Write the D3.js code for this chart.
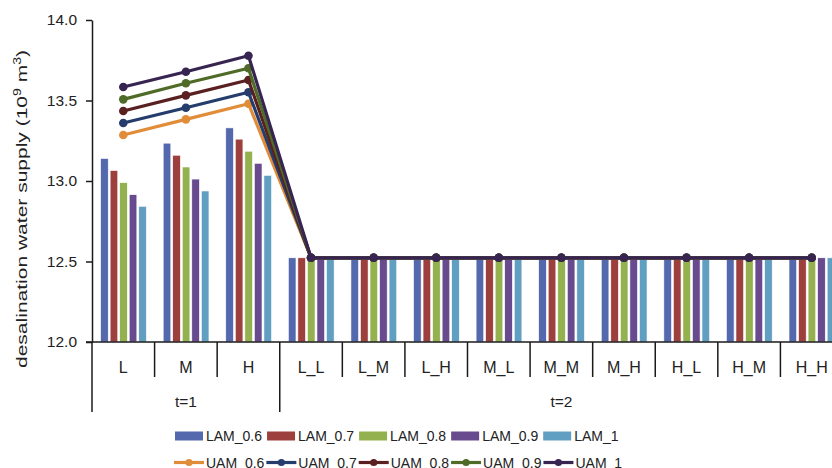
<!DOCTYPE html>
<html>
<head>
<meta charset="utf-8">
<script src="https://cdn.jsdelivr.net/npm/d3@7"></script>
<style>
  html, body { margin: 0; padding: 0; background: #fff; }
  svg { display: block; font-family: "Liberation Sans", Arial, sans-serif; }
</style>
</head>
<body>
<svg id="chart" width="832" height="468"></svg>
<script>
// Scenario categories along the x axis
const categories = ["L", "M", "H", "L_L", "L_M", "L_H", "M_L", "M_M", "M_H", "H_L", "H_M", "H_H"];
const periodGroups = [
  { label: "t=1", from: 0, to: 3 },
  { label: "t=2", from: 3, to: 12 }
];
const yTicks = [12.0, 12.5, 13.0, 13.5, 14.0];

// Lower-bound series (bars)
const barSeries = ["LAM_0.6", "LAM_0.7", "LAM_0.8", "LAM_0.9", "LAM_1"];
const LAM_06 = [13.14, 13.235, 13.33, 12.523, 12.523, 12.523, 12.523, 12.523, 12.523, 12.523, 12.523, 12.523];
const LAM_07 = [13.065, 13.16, 13.26, 12.523, 12.523, 12.523, 12.523, 12.523, 12.523, 12.523, 12.523, 12.523];
const LAM_08 = [12.99, 13.087, 13.185, 12.523, 12.523, 12.523, 12.523, 12.523, 12.523, 12.523, 12.523, 12.523];
const LAM_09 = [12.915, 13.012, 13.11, 12.523, 12.523, 12.523, 12.523, 12.523, 12.523, 12.523, 12.523, 12.523];
const LAM_1  = [12.843, 12.938, 13.035, 12.523, 12.523, 12.523, 12.523, 12.523, 12.523, 12.523, 12.523, 12.523];

// Upper-bound series (lines with markers)
const lineSeries = ["UAM_0.6", "UAM_0.7", "UAM_0.8", "UAM_0.9", "UAM_1"];
const UAM_06 = [13.286, 13.383, 13.48, 12.523, 12.523, 12.523, 12.523, 12.523, 12.523, 12.523, 12.523, 12.523];
const UAM_07 = [13.36, 13.455, 13.551, 12.523, 12.523, 12.523, 12.523, 12.523, 12.523, 12.523, 12.523, 12.523];
const UAM_08 = [13.435, 13.532, 13.627, 12.523, 12.523, 12.523, 12.523, 12.523, 12.523, 12.523, 12.523, 12.523];
const UAM_09 = [13.507, 13.607, 13.70, 12.523, 12.523, 12.523, 12.523, 12.523, 12.523, 12.523, 12.523, 12.523];
const UAM_1  = [13.584, 13.679, 13.778, 12.523, 12.523, 12.523, 12.523, 12.523, 12.523, 12.523, 12.523, 12.523];

const barValues = [LAM_06, LAM_07, LAM_08, LAM_09, LAM_1];
const lineValues = [UAM_06, UAM_07, UAM_08, UAM_09, UAM_1];
const barColors = ["#5468ae", "#9d3f3c", "#93b14e", "#684b8f", "#609fc1"];
const lineColors = ["#e08c38", "#243d6c", "#5a1f1f", "#4f6b27", "#382451"];

const svg = d3.select("#chart");
const plot = { left: 92, top: 20, right: 843, bottom: 342 };

const x0 = d3.scaleBand().domain(categories).range([plot.left, plot.right]).padding(0);
const x1 = d3.scaleBand().domain(barSeries).range([8.6, x0.bandwidth() - 8.2]).paddingInner(0.2);
const y = d3.scaleLinear().domain([12, 14]).range([plot.bottom, plot.top]);

// Bars
const barRows = [];
barSeries.forEach((s, si) => {
  categories.forEach((c, ci) => barRows.push({ s, si, c, v: barValues[si][ci] }));
});
svg.append("g").selectAll("rect").data(barRows).join("rect")
  .attr("x", d => x0(d.c) + x1(d.s))
  .attr("y", d => y(d.v))
  .attr("width", x1.bandwidth())
  .attr("height", d => y(12) - y(d.v))
  .attr("fill", d => barColors[d.si])
  .attr("stroke", "#ffffff")
  .attr("stroke-width", 0.6);

// Axes
const axisColor = "#1a1a1a";
const yAxis = svg.append("g")
  .attr("transform", `translate(${plot.left},0)`)
  .call(d3.axisLeft(y).tickValues(yTicks).tickFormat(d3.format(".1f")).tickSize(6).tickSizeOuter(0).tickPadding(9));
yAxis.select(".domain").attr("stroke", axisColor).attr("stroke-width", 1.5);
yAxis.selectAll(".tick line").attr("stroke", axisColor).attr("stroke-width", 1.5);
yAxis.selectAll(".tick text").attr("font-size", 15.5).attr("fill", "#222").attr("font-family", "Liberation Sans, Arial, sans-serif");

const xAxis = svg.append("g");
xAxis.append("line")
  .attr("x1", plot.left - 6).attr("x2", plot.right)
  .attr("y1", plot.bottom).attr("y2", plot.bottom)
  .attr("stroke", axisColor).attr("stroke-width", 1.5);

const groupStarts = new Set(periodGroups.map(g => g.from));
const boundaries = categories.map((c, i) => ({ x: x0(c), long: groupStarts.has(i) }));
xAxis.selectAll("line.div").data(boundaries).join("line")
  .attr("class", "div")
  .attr("x1", d => d.x).attr("x2", d => d.x)
  .attr("y1", plot.bottom)
  .attr("y2", d => d.long ? plot.bottom + 70 : plot.bottom + 35)
  .attr("stroke", axisColor).attr("stroke-width", 1.5);

xAxis.selectAll("text.cat").data(categories).join("text")
  .attr("class", "cat")
  .attr("x", d => x0(d) + x0.bandwidth() / 2)
  .attr("y", plot.bottom + 30.5)
  .attr("text-anchor", "middle")
  .attr("font-size", 16)
  .attr("fill", "#222")
  .text(d => d);

xAxis.selectAll("text.grp").data(periodGroups).join("text")
  .attr("class", "grp")
  .attr("x", d => (x0(categories[d.from]) + (d.to < categories.length ? x0(categories[d.to]) : plot.right)) / 2)
  .attr("y", plot.bottom + 64.5)
  .attr("text-anchor", "middle")
  .attr("font-size", 15.5)
  .attr("fill", "#222")
  .text(d => d.label);

// Y title
const yTitle = svg.append("text")
  .attr("transform", "translate(27,209) rotate(-90)")
  .attr("text-anchor", "middle")
  .attr("font-size", 15)
  .attr("fill", "#222")
  .attr("textLength", 318)
  .attr("lengthAdjust", "spacingAndGlyphs");
yTitle.append("tspan").text("desalination water supply (10");
yTitle.append("tspan").attr("dy", -6).attr("font-size", 10).text("9");
yTitle.append("tspan").attr("dy", 6).text(" m");
yTitle.append("tspan").attr("dy", -6).attr("font-size", 10).text("3");
yTitle.append("tspan").attr("dy", 6).text(")");

// Lines with markers
const cx = c => x0(c) + x0.bandwidth() / 2;
const lineGen = d3.line().x(d => cx(d.c)).y(d => y(d.v));
lineSeries.forEach((s, si) => {
  const pts = categories.map((c, ci) => ({ c, v: lineValues[si][ci] }));
  const g = svg.append("g");
  g.append("path").datum(pts)
    .attr("d", lineGen)
    .attr("fill", "none")
    .attr("stroke", lineColors[si])
    .attr("stroke-width", 3.2)
    .attr("stroke-linejoin", "round");
  g.selectAll("circle").data(pts).join("circle")
    .attr("cx", d => cx(d.c))
    .attr("cy", d => y(d.v))
    .attr("r", 4.3)
    .attr("fill", lineColors[si]);
});

// Legend
const legend = svg.append("g").attr("font-size", 14).attr("fill", "#222");
let lx = 175;
barSeries.forEach((s, si) => {
  legend.append("rect").attr("x", lx).attr("y", 431.5).attr("width", 28).attr("height", 9).attr("fill", barColors[si]);
  const t = legend.append("text").attr("x", lx + 31).attr("y", 441).text(s);
  lx += 31 + t.node().getComputedTextLength() + 5;
});
lx = 174;
lineSeries.forEach((s, si) => {
  legend.append("line").attr("x1", lx).attr("x2", lx + 30).attr("y1", 462.5).attr("y2", 462.5)
    .attr("stroke", lineColors[si]).attr("stroke-width", 3.2);
  legend.append("circle").attr("cx", lx + 15).attr("cy", 462.5).attr("r", 3.6).attr("fill", lineColors[si]);
  const t = legend.append("text").attr("x", lx + 32).attr("y", 467.5).text(s);
  lx += 32 + t.node().getComputedTextLength() + 2;
});
</script>
</body>
</html>
